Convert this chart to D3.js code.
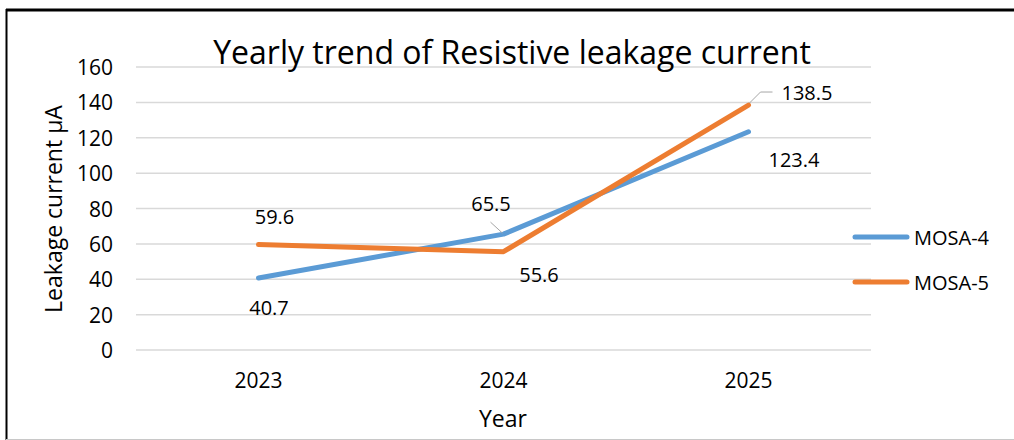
<!DOCTYPE html>
<html><head><meta charset="utf-8">
<script src="https://cdn.jsdelivr.net/npm/d3@7"></script>
<style>body{margin:0;background:#fff}svg{display:block}text{font-family:"Open Sans",Lato,sans-serif;fill:#000}</style>
</head><body><svg id="c" width="1014" height="440"></svg>
<script>
const years = ["2023", "2024", "2025"];
const mosa4 = [40.7, 65.5, 123.4];
const mosa5 = [59.6, 55.6, 138.5];
const seriesNames = ["MOSA-4", "MOSA-5"];
const yTicks = [0, 20, 40, 60, 80, 100, 120, 140, 160];
const colors = ["#5B9BD5", "#ED7D31"];

const svg = d3.select("#c");
// frame
svg.append("line").attr("x1",6).attr("x2",1014).attr("y1",10).attr("y2",10).attr("stroke","#000").attr("stroke-width",3);
svg.append("line").attr("x1",6.5).attr("x2",6.5).attr("y1",9).attr("y2",440).attr("stroke","#000").attr("stroke-width",2);
svg.append("line").attr("x1",6).attr("x2",1014).attr("y1",439.5).attr("y2",439.5).attr("stroke","#c8c8c8").attr("stroke-width",1);

const x = d3.scaleBand().domain(years).range([136, 871]);
const y = d3.scaleLinear().domain([0, 160]).range([350, 67]);

// grid
svg.append("g").selectAll("line").data(yTicks).join("line")
  .attr("x1",136).attr("x2",871).attr("y1",d=>y(d)).attr("y2",d=>y(d))
  .attr("stroke","#d9d9d9").attr("stroke-width",1.5);

// y axis
const ya = svg.append("g").attr("transform","translate(136,0)")
  .call(d3.axisLeft(y).tickValues(yTicks).tickSize(0).tickPadding(23));
ya.select(".domain").remove();
ya.selectAll("text").style("font-family","'Open Sans'").style("font-size","21px").attr("fill","#000").attr("dy","0.36em");

// x axis
const xa = svg.append("g").attr("transform","translate(0,350)")
  .call(d3.axisBottom(x).tickSize(0).tickPadding(0));
xa.select(".domain").remove();
xa.selectAll("text").style("font-family","'Open Sans'").style("font-size","21px").attr("fill","#000").attr("dy",0).attr("y",38);

// titles
svg.append("text").attr("x",512).attr("y",64).attr("text-anchor","middle").style("font-size","32px").text("Yearly trend of Resistive leakage current");
svg.append("text").attr("x",503).attr("y",427).attr("text-anchor","middle").style("font-size","23px").text("Year");
svg.append("text").attr("transform","translate(62,209) rotate(-90)").attr("text-anchor","middle").style("font-size","23px").text("Leakage current µA");

// lines
const line = d3.line().x((d,i)=>x(years[i])+x.bandwidth()/2).y(d=>y(d));
[mosa4, mosa5].forEach((s,k)=>{
  svg.append("path").datum(s).attr("d",line).attr("fill","none")
    .attr("stroke",colors[k]).attr("stroke-width",5).attr("stroke-linecap","round").attr("stroke-linejoin","round");
});

// leader lines
const cx = i => x(years[i]) + x.bandwidth()/2;
svg.append("path").attr("d",`M${cx(1)-13},${y(mosa4[1])-12} L${cx(1)-1},${y(mosa4[1])-1}`).attr("stroke","#a6a6a6").attr("fill","none").attr("stroke-width",1);
svg.append("path").attr("d",`M${cx(2)+1},${y(mosa5[2])-2} L${cx(2)+12},${y(mosa5[2])-13} L${cx(2)+24},${y(mosa5[2])-13}`).attr("stroke","#a6a6a6").attr("fill","none").attr("stroke-width",1);

// data labels: offsets (dx, dy of baseline) from point
const off4 = [[10.5,37],[-12.5,-23],[45.5,35]];
const off5 = [[16,-21],[35.5,30],[58.5,-5]];
[[mosa4,off4],[mosa5,off5]].forEach(([s,o])=>{
  s.forEach((v,i)=>{
    svg.append("text").attr("x",cx(i)+o[i][0]).attr("y",y(v)+o[i][1])
      .attr("text-anchor","middle").style("font-size","20px").text(v.toFixed(1));
  });
});

// legend
const lg = svg.append("g");
seriesNames.forEach((n,k)=>{
  const ly = 237 + k*45;
  lg.append("line").attr("x1",855).attr("x2",907).attr("y1",ly).attr("y2",ly)
    .attr("stroke",colors[k]).attr("stroke-width",5).attr("stroke-linecap","round");
  lg.append("text").attr("x",914).attr("y",ly+8).style("font-size","20px").text(n);
});
</script></body></html>
